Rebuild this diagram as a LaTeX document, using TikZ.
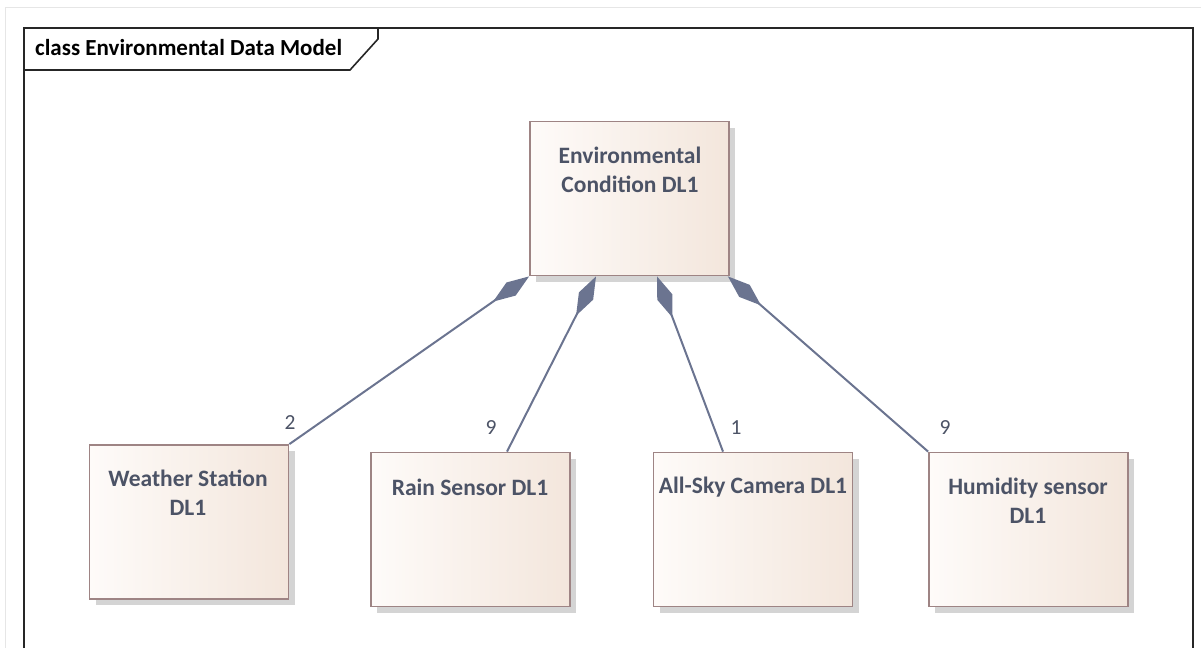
\documentclass[tikz,border=0pt]{standalone}
\usepackage{fontspec}
\setmainfont{Carlito}
\usetikzlibrary{arrows.meta,shadows}

\definecolor{frameGrey}{HTML}{E6E6E6}
\definecolor{boxLeft}{HTML}{FEFBF9}
\definecolor{boxRight}{HTML}{F3E6DC}
\definecolor{boxLine}{HTML}{9E8484}
\definecolor{linkBlue}{HTML}{6B7490}
\definecolor{txtGrey}{HTML}{4C5366}

\tikzset{
	classbox/.style={draw=boxLine, line width=1.8pt, left color=boxLeft, right color=boxRight,
		minimum width=199pt, minimum height=154pt, inner sep=0pt,
		drop shadow={shadow xshift=6pt, shadow yshift=-6pt, fill=black!17, opacity=1}},
	classname/.style={font=\fontsize{23.5}{29}\selectfont\bfseries, text=txtGrey, align=center, inner sep=0pt},
	compo/.style={draw=linkBlue, line width=2pt, -{Diamond[length=44pt, width=16pt, fill=linkBlue]}},
	mult/.style={font=\fontsize{21.5}{22}\selectfont, text=txtGrey, inner sep=0pt}
}

\begin{document}
\begin{tikzpicture}[x=1pt, y=-1pt]
	\useasboundingbox (0,0) rectangle (1201,648);
	%outer frame
	\draw[frameGrey, line width=1pt] (5,648) -- (5,7) -- (1201,7);
	\draw[black!85, line width=1.6pt] (24,648) -- (24,28) -- (1193,28) -- (1193,648);
	\draw[black!85, line width=1.6pt] (24,70) -- (350,70) -- (378,39) -- (378,28);
	\node (title) at (35,48) [anchor=west, inner sep=0pt, font=\fontsize{23}{24}\selectfont\bfseries]{class Environmental Data Model};
	
	%classes
	\node (env) at (629.5,198.5) [classbox]{};
	\node (ws) at (189,522) [classbox]{};
	\node (rain) at (470.5,529.5) [classbox]{};
	\node (cam) at (753,529.5) [classbox]{};
	\node (hum) at (1028.5,529.5) [classbox]{};
	
	\node (envText) at (630,170) [classname]{Environmental\\Condition DL1};
	\node (wsText) at (188,493) [classname]{Weather Station\\DL1};
	\node (rainText) at (470,487) [classname]{Rain Sensor DL1};
	\node (camText) at (753,487) [classname]{All-Sky Camera DL1};
	\node (humText) at (1028,501) [classname]{Humidity sensor\\DL1};
	
	%compositions
	\draw[compo] (ws.north east) -- (env.south west);
	\draw[compo] ([xshift=36.5pt]rain.north) -- ([xshift=-33.5pt]env.south);
	\draw[compo] ([xshift=-30pt]cam.north) -- ([xshift=27.5pt]env.south);
	\draw[compo] (hum.north west) -- ([xshift=-2pt]env.south east);
	
	\node (m1) at (290,423) [mult]{2};
	\node (m2) at (491,428) [mult]{9};
	\node (m3) at (736,428) [mult]{1};
	\node (m4) at (945,428) [mult]{9};
\end{tikzpicture}
\end{document}
